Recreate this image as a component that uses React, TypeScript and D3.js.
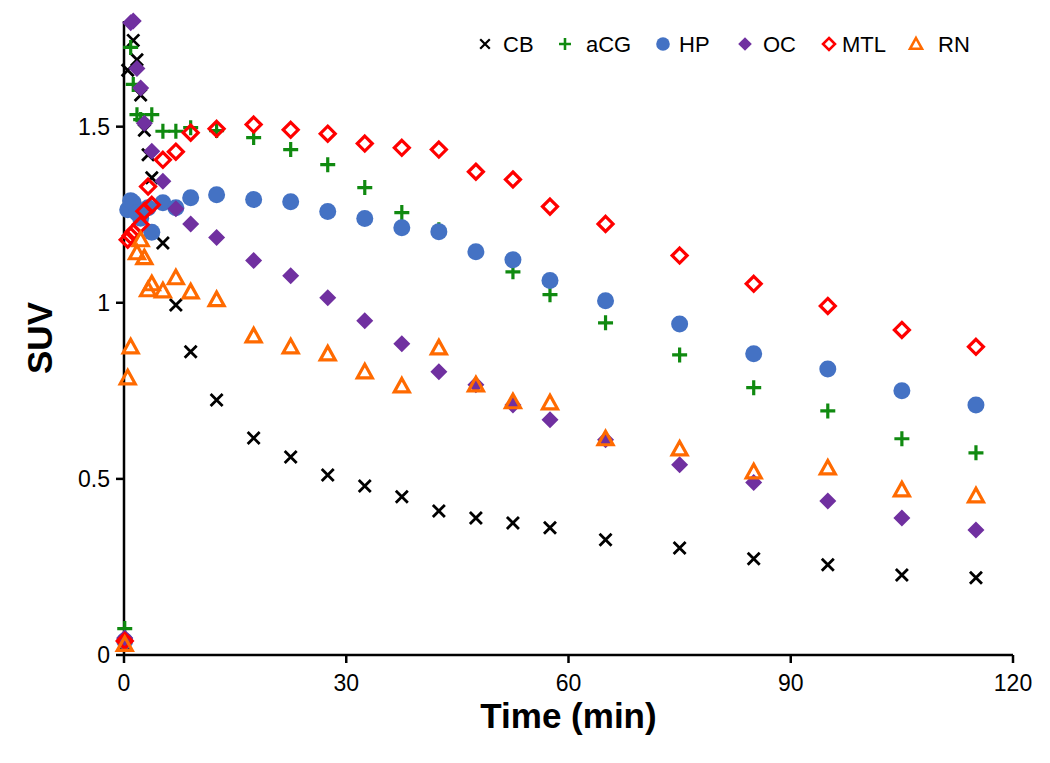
import React from "react";
import * as d3 from "d3";

const times = [0.1, 0.5, 0.9, 1.25, 1.75, 2.25, 2.75, 3.25, 3.75, 5.25, 7, 9, 12.5, 17.5, 22.5, 27.5, 32.5, 37.5, 42.5, 47.5, 52.5, 57.5, 65, 75, 85, 95, 105, 115];

const cbValues = [0.03, 1.66, null, 1.745, 1.69, 1.59, 1.49, 1.42, 1.355, 1.17, 0.994, 0.861, 0.724, 0.616, 0.562, 0.511, 0.48, 0.449, 0.409, 0.389, 0.375, 0.361, 0.327, 0.304, 0.273, 0.256, 0.227, 0.219];
const acgValues = [0.075, null, 1.725, 1.62, 1.534, 1.52, 1.515, null, 1.534, 1.487, 1.487, 1.497, 1.489, 1.469, 1.435, 1.392, 1.327, 1.256, 1.207, 1.145, 1.088, 1.023, 0.943, 0.852, 0.759, 0.693, 0.614, 0.574];
const hpValues = [0.04, 1.264, 1.29, 1.284, 1.255, 1.24, null, 1.27, 1.2, 1.284, 1.27, 1.298, 1.307, 1.293, 1.287, 1.259, 1.239, 1.213, 1.202, 1.145, 1.122, 1.063, 1.006, 0.94, 0.855, 0.812, 0.75, 0.71];
const ocValues = [0.048, null, 1.795, 1.8, 1.665, 1.61, 1.51, null, 1.43, 1.345, 1.267, 1.224, 1.185, 1.12, 1.077, 1.014, 0.949, 0.884, 0.804, 0.767, 0.71, 0.668, 0.611, 0.54, 0.49, 0.437, 0.389, 0.355];
const mtlValues = [0.04, 1.179, 1.19, 1.2, null, 1.222, 1.26, 1.33, 1.278, 1.406, 1.429, 1.483, 1.494, 1.506, 1.491, 1.48, 1.452, 1.44, 1.435, 1.372, 1.35, 1.273, 1.224, 1.134, 1.054, 0.991, 0.923, 0.875];
const rnValues = [0.03, 0.787, 0.875, null, 1.142, 1.179, 1.128, 1.037, 1.054, 1.034, 1.071, 1.031, 1.009, 0.906, 0.875, 0.855, 0.804, 0.764, 0.872, 0.767, 0.719, 0.716, 0.614, 0.585, 0.52, 0.531, 0.469, 0.452];

const seriesNames = ["CB", "aCG", "HP", "OC", "MTL", "RN"];
const xTicks = [0, 30, 60, 90, 120];
const yTicks = [0, 0.5, 1, 1.5];

const W = 1050, H = 763;
const M = { left: 124, right: 1013, top: 21, bottom: 655 };

type MarkerKind = "cross" | "plus" | "circle" | "diamond" | "odiamond" | "otriangle";

const styles: Record<string, { kind: MarkerKind; color: string }> = {
  CB: { kind: "cross", color: "#000000" },
  aCG: { kind: "plus", color: "#108a10" },
  HP: { kind: "circle", color: "#4472C4" },
  OC: { kind: "diamond", color: "#7030A0" },
  MTL: { kind: "odiamond", color: "#FF0000" },
  RN: { kind: "otriangle", color: "#FF6A00" },
};

function Marker({ kind, color, x, y, scale = 1 }: { kind: MarkerKind; color: string; x: number; y: number; scale?: number }) {
  const t = `translate(${x},${y}) scale(${scale})`;
  switch (kind) {
    case "cross": {
      const s = 6;
      return <path transform={t} d={`M${-s},${-s}L${s},${s}M${-s},${s}L${s},${-s}`} stroke={color} strokeWidth={2.8} fill="none" />;
    }
    case "plus": {
      const s = 7.5;
      return <path transform={t} d={`M${-s},0L${s},0M0,${-s}L0,${s}`} stroke={color} strokeWidth={3.2} fill="none" />;
    }
    case "circle":
      return <circle transform={t} r={8.5} fill={color} />;
    case "diamond": {
      const s = 8.5;
      return <path transform={t} d={`M0,${-s}L${s},0L0,${s}L${-s},0Z`} fill={color} />;
    }
    case "odiamond": {
      const s = 7.5;
      return <path transform={t} d={`M0,${-s}L${s},0L0,${s}L${-s},0Z`} fill="none" stroke={color} strokeWidth={3.2} />;
    }
    case "otriangle": {
      const s = 7.5;
      return <path transform={t} d={`M0,${-s}L${s},${s * 0.8}L${-s},${s * 0.8}Z`} fill="none" stroke={color} strokeWidth={3.2} strokeLinejoin="miter" />;
    }
  }
  return null;
}

export default function App() {
  const x = d3.scaleLinear().domain([0, 120]).range([M.left, M.right]);
  const y = d3.scaleLinear().domain([0, 1.8]).range([M.bottom, M.top]);
  const data: Record<string, (number | null)[]> = {
    CB: cbValues, aCG: acgValues, HP: hpValues, OC: ocValues, MTL: mtlValues, RN: rnValues,
  };
  const legendX = [485, 565, 663, 745, 829, 916];
  const legendTextX = [503, 586, 679, 763, 842, 938];
  const font = "Liberation Sans, Arial, sans-serif";
  return (
    <svg width={W} height={H} style={{ position: "absolute", left: 0, top: 0, background: "#fff" }} fontFamily={font}>
      <rect width={W} height={H} fill="#fff" />
      <line x1={x(0)} x2={x(120)} y1={y(0)} y2={y(0)} stroke="#000" strokeWidth={2.5} />
      <line x1={x(0)} x2={x(0)} y1={y(0)} y2={M.top} stroke="#000" strokeWidth={2.5} />
      {xTicks.map((t) => (
        <g key={"xt" + t}>
          <line x1={x(t)} x2={x(t)} y1={y(0)} y2={y(0) + 8} stroke="#000" strokeWidth={2.5} />
          <text x={x(t)} y={y(0) + 36} textAnchor="middle" fontSize={23} fill="#000">{t}</text>
        </g>
      ))}
      {yTicks.map((t) => (
        <g key={"yt" + t}>
          <line x1={x(0) - 8} x2={x(0)} y1={y(t)} y2={y(t)} stroke="#000" strokeWidth={2.5} />
          <text x={x(0) - 14} y={y(t) + 8} textAnchor="end" fontSize={23} fill="#000">{t}</text>
        </g>
      ))}
      <text x={(M.left + M.right) / 2} y={728} textAnchor="middle" fontSize={35} fontWeight="bold" fill="#000">Time (min)</text>
      <text transform={`translate(52,${(M.top + M.bottom) / 2}) rotate(-90)`} textAnchor="middle" fontSize={35} fontWeight="bold" fill="#000">SUV</text>
      {seriesNames.map((name) => (
        <g key={name}>
          {times.map((t, i) => {
            const v = data[name][i];
            if (v == null) return null;
            return <Marker key={i} kind={styles[name].kind} color={styles[name].color} x={x(t)} y={y(v)} />;
          })}
        </g>
      ))}
      {seriesNames.map((name, i) => (
        <g key={"lg" + name}>
          <Marker kind={styles[name].kind} color={styles[name].color} x={legendX[i]} y={44} scale={0.8} />
          <text x={legendTextX[i]} y={52} fontSize={22} fill="#000">{name}</text>
        </g>
      ))}
    </svg>
  );
}
